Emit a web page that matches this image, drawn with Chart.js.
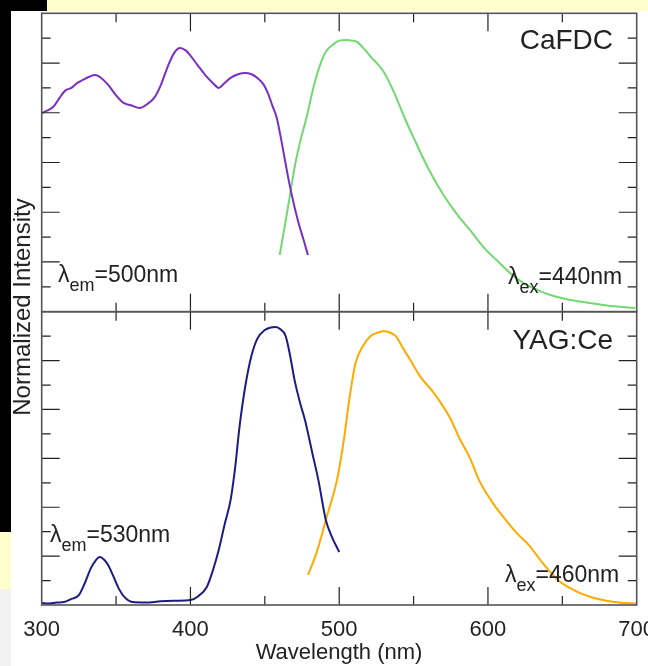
<!DOCTYPE html>
<html lang="en">
<head>
<meta charset="UTF-8">
<title>CaFDC / YAG:Ce spectra</title>
<script src="https://cdn.jsdelivr.net/npm/chart.js"></script>
<style>
  * { box-sizing: border-box; margin: 0; padding: 0; }
  html, body { width: 648px; height: 666px; overflow: hidden; background: #fff;
               font-family: "Liberation Sans", Arial, sans-serif; color: #222; position: relative; }
  .blk { position: absolute; }
  canvas { position: absolute; left: 0; }
  .txt { position: absolute; line-height: 1; white-space: nowrap; z-index: 5; }
  .lab { font-size: 23px; }
  .lab sub { font-size: 18px; vertical-align: baseline; position: relative; top: 9px; }
  .name { font-size: 28px; }
</style>
</head>
<body>
  <!-- slide background bits -->
  <div class="blk" style="left:0;top:0;width:47px;height:11px;background:#000"></div>
  <div class="blk" style="left:47px;top:0;width:601px;height:11px;background:#ffffcc"></div>
  <div class="blk" style="left:0;top:11px;width:11px;height:521px;background:#000"></div>
  <div class="blk" style="left:0;top:532px;width:11px;height:57px;background:#ffffcc"></div>
  <div class="blk" style="left:0;top:589px;width:11px;height:77px;background:#f2f2f2"></div>

  <canvas id="top" width="648" height="330" style="top:0"></canvas>
  <canvas id="bot" width="648" height="366" style="top:300px"></canvas>

  <div class="txt name" style="right:35px;top:26px">CaFDC</div>
  <div class="txt name" style="right:35px;top:326px">YAG:Ce</div>
  <div class="txt lab" style="left:58px;top:263px">&lambda;<sub>em</sub>=500nm</div>
  <div class="txt lab" style="left:508px;top:265px">&lambda;<sub>ex</sub>=440nm</div>
  <div class="txt lab" style="left:50px;top:523px">&lambda;<sub>em</sub>=530nm</div>
  <div class="txt lab" style="left:505px;top:563px">&lambda;<sub>ex</sub>=460nm</div>
  <div class="txt" style="left:339px;top:641px;font-size:22px;transform:translateX(-50%)">Wavelength (nm)</div>
  <div class="txt" style="left:-128px;top:295px;width:300px;text-align:center;font-size:24px;transform:rotate(-90deg)">Normalized Intensity</div>

<script>
  // ─── data ──────────────────────────────────────────────────────────────────
  const xMajor = [400, 500, 600];
  const xMinor = [350, 450, 550, 650];
  const yTicks = [1, 2, 3, 4, 5, 6, 7, 8, 9, 10, 11];
  const xLabels = [300, 400, 500, 600, 700];

  // CaFDC excitation (λem = 500nm)
  const cafdcExNm  = [300, 304, 308, 312, 316, 320, 324, 328, 332, 336, 340, 345, 350, 355, 360, 366, 371, 376, 380, 385,
                      389, 393, 397, 400, 405, 411, 415, 419, 423, 427, 432, 437, 441, 445, 449, 452, 455, 458, 462, 466,
                      470, 473, 476, 479];
  const cafdcExVal = [7.99, 8.1, 8.25, 8.6, 8.9, 9.0, 9.2, 9.33, 9.45, 9.52, 9.4, 9.1, 8.7, 8.4, 8.3, 8.19, 8.35, 8.63, 9.1, 9.9,
                      10.4, 10.6, 10.5, 10.3, 9.9, 9.44, 9.2, 9.0, 9.2, 9.4, 9.55, 9.6, 9.55, 9.4, 9.15, 8.8, 8.3, 7.8, 6.6, 5.3,
                      4.2, 3.5, 2.9, 2.28];

  // CaFDC emission (λex = 440nm)
  const cafdcEmNm  = [460, 465, 470, 474, 478, 483, 487, 491, 496, 500, 505, 509, 512, 517, 522, 526, 530, 537, 544, 550,
                      560, 570, 580, 588, 597, 608, 616, 624, 633, 642, 653, 664, 680, 699];
  const cafdcEmVal = [2.28, 4.0, 5.8, 6.9, 7.8, 9.1, 9.9, 10.45, 10.75, 10.9, 10.93, 10.9, 10.85, 10.55, 10.2, 9.95, 9.64, 8.8, 7.79, 7.0,
                      5.75, 4.7, 3.85, 3.28, 2.6, 1.95, 1.5, 1.15, 0.88, 0.67, 0.5, 0.39, 0.25, 0.15];

  // YAG:Ce excitation (λem = 530nm)
  const yagExNm  = [300, 305, 310, 315, 320, 325, 329, 333, 336, 339, 342, 345, 348, 352, 356, 361, 370, 380, 390, 400,
                    405, 411, 415, 419, 423, 427, 430, 433, 437, 441, 445, 450, 454, 457, 460, 464, 467, 470, 474, 477,
                    482, 486, 491, 495, 500];
  const yagExVal = [0.08, 0.06, 0.1, 0.12, 0.25, 0.4, 0.9, 1.5, 1.8, 1.96, 1.85, 1.6, 1.2, 0.65, 0.3, 0.12, 0.1, 0.15, 0.17, 0.2,
                    0.35, 0.74, 1.4, 2.25, 3.3, 4.3, 5.6, 7.3, 9.0, 10.2, 10.9, 11.25, 11.35, 11.37, 11.3, 11.0, 10.2, 9.2, 8.2, 7.57,
                    6.2, 5.11, 3.48, 2.8, 2.17];

  // YAG:Ce emission (λex = 460nm)
  const yagEmNm  = [479, 484, 488, 491, 495, 498.5, 503, 507, 511, 516, 521, 526, 530, 534, 538, 543, 548, 555, 562, 568,
                    575, 581, 588, 594, 603, 613.5, 620, 627.5, 637, 647, 658, 669, 685, 700];
  const yagEmVal = [1.23, 2.0, 2.8, 3.48, 4.3, 5.11, 6.7, 8.5, 9.9, 10.6, 11.0, 11.15, 11.2, 11.15, 11.0, 10.5, 10.0, 9.3, 8.8, 8.3,
                    7.6, 6.8, 6.0, 5.11, 4.2, 3.36, 2.9, 2.45, 1.7, 1.02, 0.6, 0.33, 0.12, 0.05];

  const pts = (nm, val) => nm.map((x, i) => ({ x, y: val[i] }));

  // ─── inward ticks + frame ──────────────────────────────────────────────────
  const frameTicks = {
    id: 'frameTicks',
    afterDatasetsDraw(chart) {
      const { ctx, chartArea: a, scales: { x, y } } = chart;
      ctx.save();
      ctx.strokeStyle = '#222';
      ctx.lineWidth = 1.2;
      ctx.beginPath();
      const xt = (v, len) => {
        const px = x.getPixelForValue(v);
        ctx.moveTo(px, a.top);    ctx.lineTo(px, a.top + len);
        ctx.moveTo(px, a.bottom); ctx.lineTo(px, a.bottom - len);
      };
      xMajor.forEach(v => xt(v, 18));
      xMinor.forEach(v => xt(v, 9));
      yTicks.forEach(v => {
        const py = y.getPixelForValue(v);
        const len = v % 2 === 0 ? 18 : 9;
        ctx.moveTo(a.left, py);  ctx.lineTo(a.left + len, py);
        ctx.moveTo(a.right, py); ctx.lineTo(a.right - len, py);
      });
      ctx.stroke();
      ctx.strokeStyle = '#555';
      ctx.lineWidth = 1.6;
      ctx.strokeRect(a.left, a.top, a.width, a.height);
      ctx.restore();
    }
  };

  const line = (data, color) => ({
    data, borderColor: color, borderWidth: 2, pointRadius: 0,
    cubicInterpolationMode: 'monotone', fill: false,
  });

  const baseOpts = (padding, xAxis) => ({
    responsive: false,
    animation: false,
    events: [],
    layout: { padding },
    plugins: { legend: { display: false }, tooltip: { enabled: false } },
    scales: {
      x: Object.assign({ type: 'linear', min: 300, max: 700 }, xAxis),
      y: { type: 'linear', min: 0, max: 12, display: false },
    },
  });

  new Chart(document.getElementById('top'), {
    type: 'line',
    data: { datasets: [
      line(pts(cafdcExNm, cafdcExVal), '#7a2ec8'),
      line(pts(cafdcEmNm, cafdcEmVal), '#72d872'),
    ]},
    options: baseOpts({ left: 41.7, top: 13.3, right: 11.3, bottom: 18.3 }, { display: false }),
    plugins: [frameTicks],
  });

  new Chart(document.getElementById('bot'), {
    type: 'line',
    data: { datasets: [
      line(pts(yagExNm, yagExVal), '#1c1c84'),
      line(pts(yagEmNm, yagEmVal), '#ffaa00'),
    ]},
    options: baseOpts({ left: 41.7, top: 11.7, right: 11.3, bottom: 0 }, {
      display: true,
      grid: { display: false, drawTicks: false },
      border: { display: false },
      afterBuildTicks: s => { s.ticks = xLabels.map(v => ({ value: v })); },
      afterFit: s => { s.height = 61; s.paddingLeft = 0; s.paddingRight = 0; },
      ticks: { color: '#222', padding: 12, maxRotation: 0, autoSkip: false,
               font: { family: 'Liberation Sans', size: 22 } },
    }),
    plugins: [frameTicks],
  });
</script>
</body>
</html>
